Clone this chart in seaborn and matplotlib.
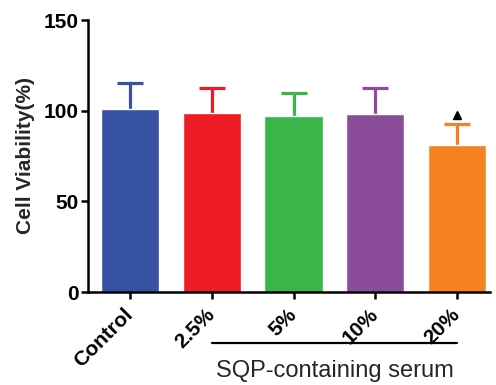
import matplotlib
matplotlib.use("Agg")
import matplotlib.pyplot as plt
import matplotlib.transforms as mtransforms
import seaborn as sns

categories = ["Control", "2.5%", "5%", "10%", "20%"]
means = [100.8, 98.8, 97.0, 98.0, 81.0]
upper_err = [14.5, 13.5, 12.6, 14.4, 11.8]
colors = ["#3953A4", "#ED1C24", "#39B54A", "#8B4C9A", "#F58220"]
y_ticks = [0, 50, 100, 150]
group_label = "SQP-containing serum"
marker_group = "20%"
marker_value = 97.5

sns.set_theme(style="ticks")
plt.rcParams["font.family"] = ["Liberation Sans", "DejaVu Sans"]

fig = plt.figure(figsize=(4.96, 3.85), dpi=100)
ax = fig.add_axes([88/496, 1-292/385, (490-88)/496, 272/385])

sns.barplot(x=categories, y=means, hue=categories, palette=colors, width=0.71,
            saturation=1, legend=False, ax=ax, zorder=2)

for i, (m, e, c) in enumerate(zip(means, upper_err, colors)):
    _, caps, _ = ax.errorbar(i, m, yerr=[[0], [e]], color=c, elinewidth=2.3,
                             capsize=9.5, capthick=2.3, zorder=1, fmt="none")
    caps[0].set_visible(False)

ax.plot(categories.index(marker_group), marker_value, marker="^", color="black",
        markersize=5.5, linestyle="none", zorder=3)

ax.set_ylim(0, 150)
ax.set_xlim(-0.51, 4.4)
ax.set_yticks(y_ticks)
ax.set_yticklabels([str(t) for t in y_ticks], fontsize=15, fontweight="bold")
ax.set_xticks(range(len(categories)))
ax.set_xticklabels(categories, fontsize=15, fontweight="bold", rotation=45,
                   ha="right", va="center", rotation_mode="anchor")
ax.set_ylabel("Cell Viability(%)", fontsize=15, fontweight="bold", labelpad=6)
ax.set_xlabel("")

for side in ["top", "right"]:
    ax.spines[side].set_visible(False)
for side in ["left", "bottom"]:
    ax.spines[side].set_linewidth(1.8)
    ax.spines[side].set_color("black")
ax.tick_params(axis="both", width=1.8, length=5, color="black", labelcolor="black")
ax.tick_params(axis="x", pad=9)
ax.tick_params(axis="y", pad=2)

trans = mtransforms.blended_transform_factory(ax.transData, ax.transAxes)
ax.plot([1, 4], [-0.1875, -0.1875], transform=trans, color="black", lw=1.6,
        clip_on=False)
ax.text(2.5, -0.29, group_label, transform=trans, ha="center", va="center",
        fontsize=17)

fig.savefig("out.png", dpi=100)
